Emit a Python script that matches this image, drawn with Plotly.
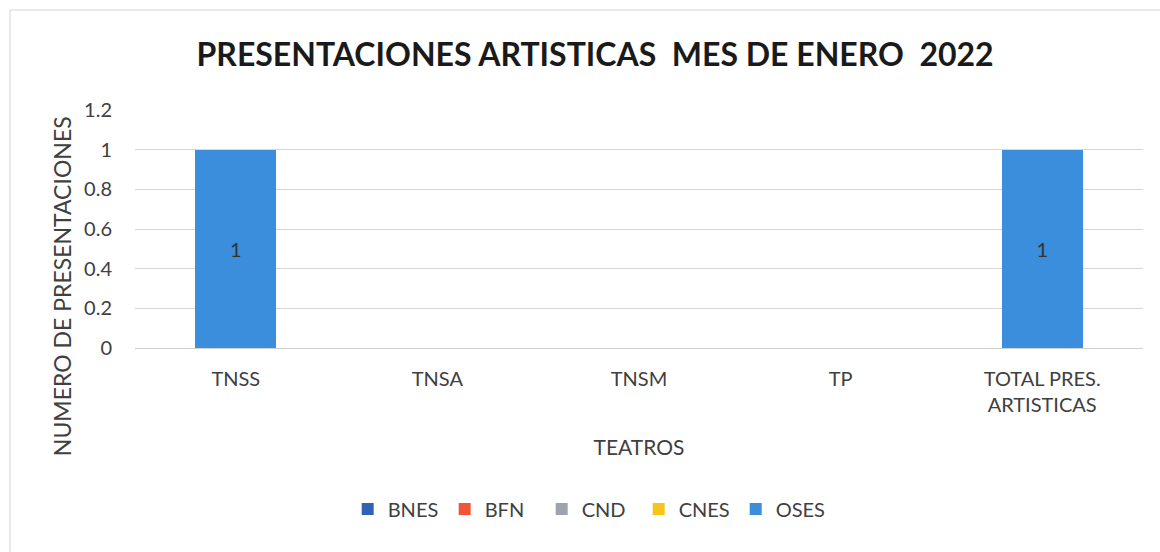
import plotly.graph_objects as go

categories = ["TNSS", "TNSA", "TNSM", "TP", "TOTAL PRES.<br>ARTISTICAS"]
series_names = ["BNES", "BFN", "CND", "CNES", "OSES"]
bnes = [0, 0, 0, 0, 0]
bfn = [0, 0, 0, 0, 0]
cnd = [0, 0, 0, 0, 0]
cnes = [0, 0, 0, 0, 0]
oses = [1, 0, 0, 0, 1]
series_values = [bnes, bfn, cnd, cnes, oses]
colors = ["#2F63B5", "#F0553A", "#9EA3AE", "#F5C518", "#3A8EDB"]
y_ticks = [0, 0.2, 0.4, 0.6, 0.8, 1, 1.2]
y_tick_labels = ["0", "0.2", "0.4", "0.6", "0.8", "1", "1.2"]

FONT = "Lato"
TXT = "#404040"
fig = go.Figure()
for name, vals, col in zip(series_names, series_values, colors):
    fig.add_trace(go.Bar(
        name=name, x=categories, y=vals,
        marker=dict(color=col, line=dict(width=0)),
        text=[str(v) if v else "" for v in vals],
        textposition="inside", insidetextanchor="middle",
        textfont=dict(family=FONT, size=20, color="#333333"),
    ))

fig.update_layout(
    barmode="stack",
    bargap=0.6,
    width=1160, height=552,
    margin=dict(l=135, r=17, t=110, b=204),
    paper_bgcolor="white", plot_bgcolor="white",
    title=dict(text="<b>PRESENTACIONES ARTISTICAS  MES DE ENERO  2022</b>",
               x=0.513, xanchor="center", y=0.9, yanchor="middle",
               font=dict(family=FONT, size=32, color="#1a1a1a")),
    font=dict(family=FONT, color=TXT),
    legend=dict(orientation="h", x=0.211, xanchor="left", y=-0.676, yanchor="middle",
                font=dict(family=FONT, size=20, color=TXT),
                itemwidth=30, entrywidth=52, traceorder="normal"),
    showlegend=True,
)
fig.update_xaxes(
    showgrid=False, showline=False, ticks="", ticklabelstandoff=17,
    tickfont=dict(family=FONT, size=20, color=TXT),
    title=dict(text="TEATROS", font=dict(family=FONT, size=21, color=TXT), standoff=25),
)
fig.update_yaxes(
    range=[0, 1.2], tickvals=y_ticks, ticktext=y_tick_labels,
    showgrid=True, gridcolor="#D6D6D6", gridwidth=1,
    zeroline=True, zerolinecolor="#D0D0D0", zerolinewidth=1,
    showline=False, ticks="", ticklabelstandoff=22,
    tickfont=dict(family=FONT, size=20, color=TXT),
)
fig.add_annotation(text="NUMERO DE PRESENTACIONES", xref="paper", yref="paper",
                   x=-0.0724, y=0.26, xanchor="center", yanchor="middle",
                   textangle=-90, showarrow=False,
                   font=dict(family=FONT, size=23, color=TXT))
fig.add_shape(type="rect", xref="paper", yref="paper",
              x0=-0.124, x1=1.2, y0=-1.2, y1=1.42,
              line=dict(color="#D4D4D8", width=1), layer="below")
fig.write_html("out.html", config={"displayModeBar": False},
               post_script="document.body.style.margin='0';")
